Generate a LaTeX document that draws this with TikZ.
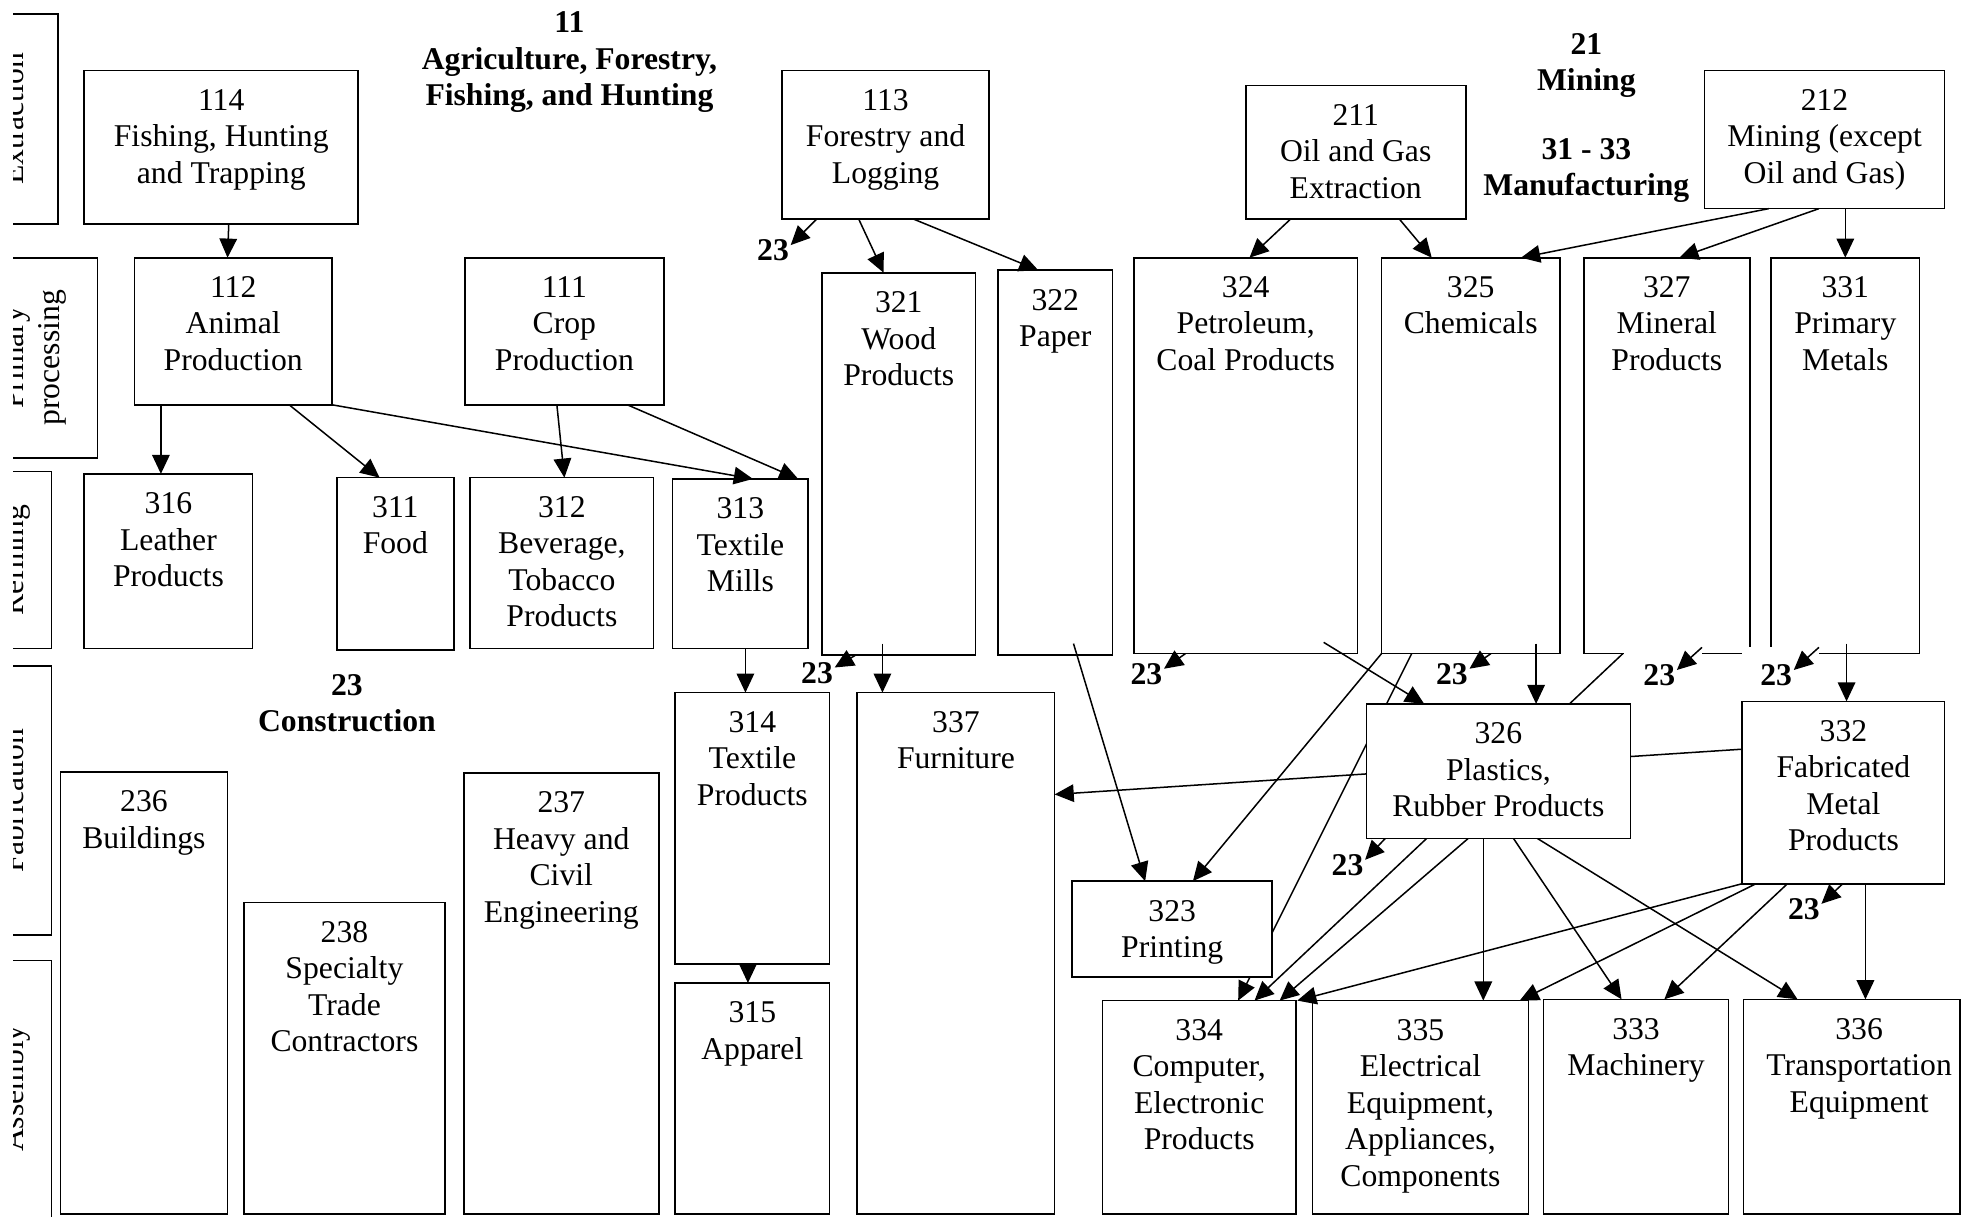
\documentclass[tikz,border=0pt]{standalone}
\usepackage{fontspec}
\setmainfont{Liberation Serif}
\usetikzlibrary{arrows.meta,calc,fit}
\pgfdeclarelayer{front}
\pgfsetlayers{main,front}
\newcommand\drawbox[7][0]{%
  \node[box, fit={(#3,#4) (#5,#6)}] (#2) {};
  \node[txt] (#2t) at ($(#2.north)+(#1,15)$) {#7};}
\begin{document}
\begin{tikzpicture}[x=0.5pt,y=-0.5pt,
  box/.style={draw, line width=0.65pt, fill=white, inner sep=0pt, outer sep=0pt},
  txt/.style={align=center, inner sep=0pt, outer sep=0pt, anchor=north, font=\fontsize{12.6}{14.5}\selectfont},
  ttl/.style={align=center, inner sep=0pt, outer sep=0pt, anchor=north, font=\fontsize{12.6}{14.4}\selectfont\bfseries},
  lane/.style={rotate=90, anchor=base, inner sep=0pt, outer sep=0pt, font=\fontsize{12.6}{14.5}\selectfont},
  lab/.style={anchor=base, inner sep=0pt, outer sep=0pt, font=\fontsize{12.6}{14.5}\selectfont\bfseries},
  arr/.style={line width=0.6pt, -{Triangle[length=7.6pt,width=7pt]}}]
\useasboundingbox (0,0) rectangle (1568,968);
\fill[white] (0,0) rectangle (1568,968);

% ---- lanes (clipped on the left) ----
\begin{scope}
\clip (10.5,0) rectangle (200,968);
\node[box, fit={(-40,11) (46,178)}] (laneE) {};
\node[lane] (laneEt) at (18.5,94.5) {Extraction};
\node[box, fit={(-40,205) (77.5,364.5)}] (laneP) {};
\node[lane] (lanePt1) at (18.5,284.7) {Primary};
\node[lane] (lanePt2) at (47.5,284.7) {processing};
\node[box, fit={(-40,375) (41,516)}] (laneR) {};
\node[lane] (laneRt) at (18.5,445.5) {Refining};
\node[box, fit={(-40,530) (41,744)}] (laneF) {};
\node[lane] (laneFt) at (18.5,637) {Fabrication};
\node[box, fit={(-40,764) (41,1000)}] (laneA) {};
\node[lane] (laneAt) at (18.5,866) {Assembly};
\end{scope}

% ---- titles ----
\node[ttl] (t11) at (453,9.5) {11\\Agriculture, Forestry,\\Fishing, and Hunting};
\node[ttl] (t21) at (1262,26.5) {21\\Mining\\[13pt]31 - 33\\Manufacturing};
\node[ttl] (t23) at (276,536.5) {23\\Construction};

% ---- boxes ----
\drawbox{n114}{67}{56}{285}{178}{114\\Fishing, Hunting\\and Trapping}
\drawbox{n112}{107}{205}{264}{322}{112\\Animal\\Production}
\drawbox{n111}{370}{205}{528}{322}{111\\Crop\\Production}
\drawbox{n113}{622}{56}{787}{174}{113\\Forestry and\\Logging}
\drawbox{n211}{991}{68}{1166}{174}{211\\Oil and Gas\\Extraction}
\drawbox{n212}{1356}{56}{1547}{166}{212\\Mining (except\\Oil and Gas)}
\drawbox{n316}{67}{377}{201}{516}{316\\Leather\\Products}
\drawbox{n311}{268}{380}{361}{517}{311\\Food}
\drawbox{n312}{374}{380}{520}{516}{312\\Beverage,\\Tobacco\\Products}
\drawbox{n313}{535}{381}{643}{516}{313\\Textile\\Mills}
\drawbox{n321}{654}{217}{776}{521}{321\\Wood\\Products}
\drawbox{n322}{794}{215}{885}{521}{322\\Paper}
\drawbox{n324}{902}{205}{1080}{520}{324\\Petroleum,\\Coal Products}
\drawbox{n325}{1099}{205}{1241}{520}{325\\Chemicals}
\drawbox{n327}{1260}{205}{1392}{520}{327\\Mineral\\Products}
\drawbox{n331}{1409}{205}{1527}{520}{331\\Primary\\Metals}
\drawbox{n314}{537}{551}{660}{767}{314\\Textile\\Products}
\drawbox{n315}{537}{782}{660}{966}{315\\Apparel}
\drawbox{n236}{48}{614}{181}{966}{236\\Buildings}
\drawbox{n238}{194}{718}{354}{966}{238\\Specialty\\Trade\\Contractors}
\drawbox{n237}{369}{615}{524}{966}{237\\Heavy and\\Civil\\Engineering}
\drawbox{n337}{682}{551}{839}{966}{337\\Furniture}
\drawbox{n332}{1386}{558}{1547}{703}{332\\Fabricated\\Metal\\Products}
\drawbox{n334}{877}{796}{1031}{966}{334\\Computer,\\Electronic\\Products}
\drawbox{n335}{1044}{796}{1216}{966}{335\\Electrical\\Equipment,\\Appliances,\\Components}
\drawbox{n333}{1228}{795}{1375}{966}{333\\Machinery}
\drawbox[6]{n336}{1387}{795}{1559}{966}{336\\Transportation\\Equipment}
\begin{pgfonlayer}{front}
\drawbox{n326}{1087}{560}{1297}{667}{326\\Plastics,\\Rubber Products}
\drawbox{n323}{853}{701}{1012}{777}{323\\Printing}
\end{pgfonlayer}

% ---- connectors ----
\draw[arr] (182,0 |- n114.south) -- (181,0 |- n112.north);
\draw[arr] (128,0 |- n112.south) -- (128,0 |- n316.north);
\draw[arr] (230,0 |- n112.south) -- (302,0 |- n311.north);
\draw[arr] (n112.south east) -- (599,0 |- n313.north);
\draw[arr] (443,0 |- n111.south) -- (449,0 |- n312.north);
\draw[arr] (499,0 |- n111.south) -- (635,0 |- n313.north);
\draw[arr] (683,0 |- n113.south) -- (703,0 |- n321.north);
\draw[arr] (726,0 |- n113.south) -- (826,0 |- n322.north);
\draw[arr] (1027,0 |- n211.south) -- (994,0 |- n324.north);
\draw[arr] (1113,0 |- n211.south) -- (1139,0 |- n325.north);
\draw[arr] (1407,0 |- n212.south) -- (1210,0 |- n325.north);
\draw[arr] (1447,0 |- n212.south) -- (1336,0 |- n327.north);
\draw[arr] (1468,0 |- n212.south) -- (1468,0 |- n331.north);
\draw[arr] (593,0 |- n313.south) -- (593,0 |- n314.north);
\draw[arr] (595,0 |- n314.south) -- (595,0 |- n315.north);
\draw[arr] ($(702,0 |- n321.south)+(0,-9)$) -- (702,0 |- n337.north);
\draw[arr] ($(854,0 |- n322.south)+(0,-9)$) -- (911,0 |- n323.north);
\draw[arr] (n325.south west) -- (949,0 |- n323.north);
\draw[arr] (1123,0 |- n325.south) -- (985,0 |- n334.north);
\draw[arr] ($(1053,0 |- n324.south)+(0,-9)$) -- (1133,0 |- n326.north);
\draw[arr] ($(1222,0 |- n325.south)+(0,-8)$) -- (1222,0 |- n326.north);
\draw[arr] (1291,0 |- n327.south) -- (998,0 |- n334.north);
\draw[arr] ($(1469,0 |- n331.south)+(0,-8)$) -- (1469,0 |- n332.north);
\draw[arr] (n332.west |- 0,596) -- (n337.east |- 0,632);
\draw[arr] (1168,0 |- n326.south) -- (1018,0 |- n334.north);
\draw[arr] (1180,0 |- n326.south) -- (1180,0 |- n335.north);
\draw[arr] (1204,0 |- n326.south) -- (1290,0 |- n333.north);
\draw[arr] (1223,0 |- n326.south) -- (1430,0 |- n336.north);
\draw[arr] (n332.south west) -- (1032,0 |- n334.north);
\draw[arr] (1397,0 |- n332.south) -- (1209,0 |- n335.north);
\draw[arr] (1422,0 |- n332.south) -- (1324,0 |- n333.north);
\draw[arr] (1484,0 |- n332.south) -- (1484,0 |- n336.north);

% ---- "23" (construction) outputs ----
\fill[white] (1292,514.5) rectangle (1354,556);
\fill[white] (1386,514.5) rectangle (1447,555);
\node[lab] (l113) at (615,207.5) {23};
\node[lab] (l321) at (650,543.5) {23};
\node[lab] (l324) at (912,544.5) {23};
\node[lab] (l325) at (1155,544.5) {23};
\node[lab] (l327) at (1320,545.5) {23};
\node[lab] (l331) at (1413,545.5) {23};
\node[lab] (l326) at (1072,696.5) {23};
\node[lab] (l332) at (1435,731.5) {23};
\draw[arr] (650,0 |- n113.south) -- ($(l113.base)+(14,-12.5)$);
\draw[arr] (681,0 |- n321.south) -- ($(l321.base)+(14,-12.5)$);
\draw[arr] (943,0 |- n324.south) -- ($(l324.base)+(14,-12.5)$);
\draw[arr] (1186,0 |- n325.south) -- ($(l325.base)+(14,-12.5)$);
\draw[arr] ($(1354,0 |- n327.south)+(0,-5)$) -- ($(l327.base)+(14,-12.5)$);
\draw[arr] ($(1447,0 |- n331.south)+(0,-5)$) -- ($(l331.base)+(14,-12.5)$);
\draw[arr] (1102,0 |- n326.south) -- ($(l326.base)+(14,-12.5)$);
\draw[arr] (1466,0 |- n332.south) -- ($(l332.base)+(14,-12.5)$);
\end{tikzpicture}
\end{document}
